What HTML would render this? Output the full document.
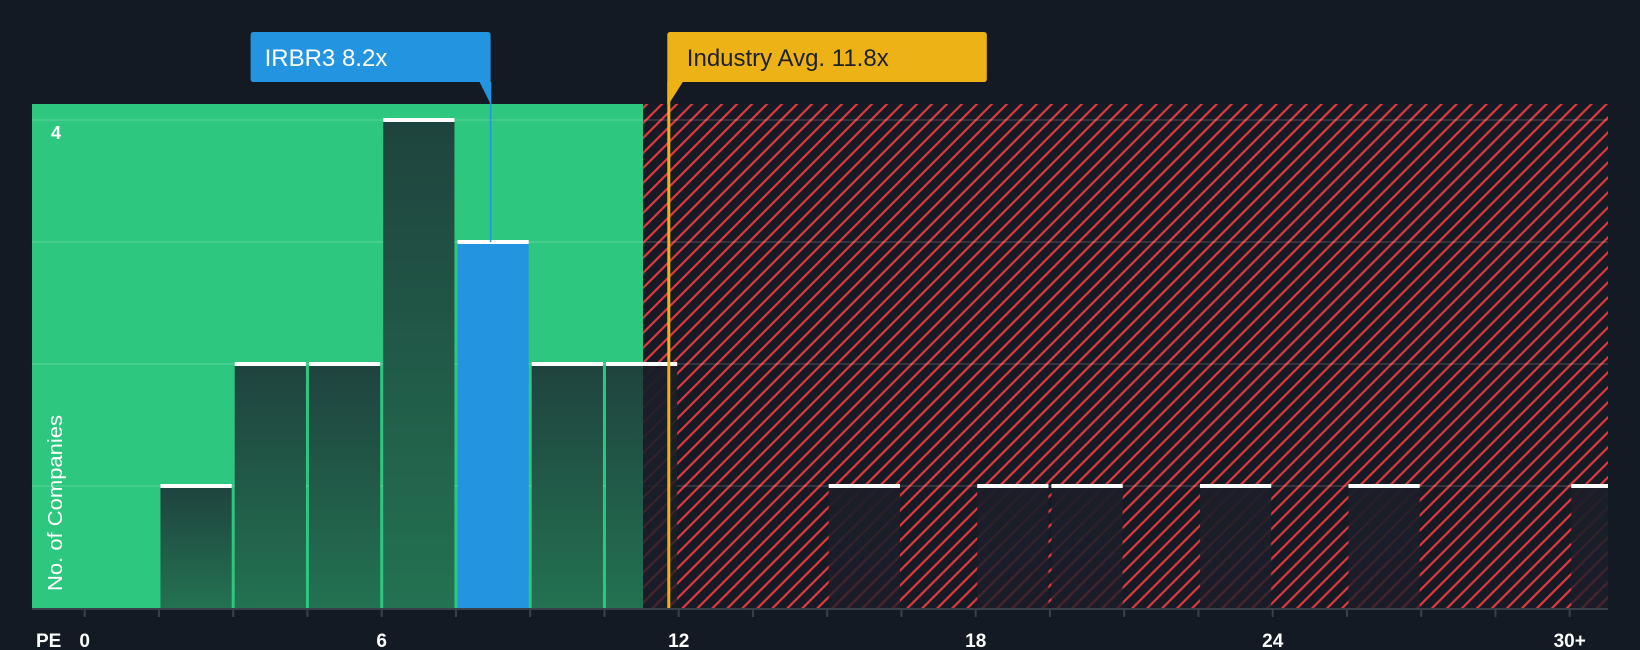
<!DOCTYPE html>
<html><head><meta charset="utf-8"><style>
html,body{margin:0;padding:0;background:#141a23;}
svg{display:block;font-family:"Liberation Sans",sans-serif;}
</style></head><body>
<svg id="chart" width="1640" height="650" viewBox="0 0 1640 650" xmlns="http://www.w3.org/2000/svg">
<defs>
<pattern id="hatch" patternUnits="userSpaceOnUse" width="10.6" height="10.6" patternTransform="rotate(45)">
<rect width="10.6" height="10.6" fill="#161a24"/>
<rect x="0" y="0" width="2.2" height="10.6" fill="#e0393e"/>
</pattern>
<linearGradient id="barg" x1="0" y1="0" x2="0" y2="1">
<stop offset="0" stop-color="#1f433e"/><stop offset="1" stop-color="#237252"/>
</linearGradient>
<linearGradient id="barh" x1="0" y1="0" x2="0" y2="1">
<stop offset="0" stop-color="#1b1e28" stop-opacity="0.97"/><stop offset="1" stop-color="#1b1e28" stop-opacity="0.75"/>
</linearGradient>
</defs>
<g id="plot"></g>
</svg>
<script>
const binStarts=[1.5,3,4.5,6,7.5,9,10.5,12,13.5,15,16.5,18,19.5,21,22.5,24,25.5,27,28.5,30];
const counts=[1,2,2,4,3,2,2,0,0,1,0,1,1,0,1,0,1,0,0,1];
const xTicks=[0,6,12,18,24,30];
const xTickLabels=["0","6","12","18","24","30+"];
const yTicks=[1,2,3,4];
const companyPE=8.2, industryPE=11.8, greenEnd=11.28;
const binW=1.5;
const NS="http://www.w3.org/2000/svg";
const L=32,R=1608,T=104,B=608;
const x=v=>84.7+v*49.5;
const y=v=>B-v*122;
const g=document.getElementById('plot');
function mk(tag,at,parent){const e=document.createElementNS(NS,tag);for(const k in at)e.setAttribute(k,at[k]);(parent||g).appendChild(e);return e;}
let e;
e=mk('rect',{x:L,y:T,width:x(greenEnd)-L,height:B-T,fill:'#2ec780'});


e=mk('rect',{x:x(greenEnd),y:T,width:R-x(greenEnd),height:B-T,fill:'url(#hatch)'});


yTicks.forEach(t=>{
 e=mk('line',{x1:L,x2:R,y1:y(t),y2:y(t),stroke:'rgba(255,255,255,0.12)','stroke-width':2});
 
 
});
binStarts.forEach((s,i)=>{
 const c=counts[i]; if(!c)return;
 const x0=x(s)+1.5, x1=Math.min(x(s+binW)-1.5,R);
 const isCo=companyPE>=s&&companyPE<s+binW;
 const inGreen=s+binW<=greenEnd+0.8;
 if(inGreen){
  const gx=Math.min(x1,x(greenEnd));
  e=mk('rect',{x:x0,y:y(c),width:gx-x0,height:B-y(c),fill:isCo?'#2394e0':'url(#barg)'});
  if(x1>gx){const e2=mk('rect',{x:gx,y:y(c),width:x1-gx,height:B-y(c),fill:'url(#barh)'});}
 } else {
  e=mk('rect',{x:x0,y:y(c),width:x1-x0,height:B-y(c),fill:'url(#barh)'});
 }
 
 
 e=mk('rect',{x:x0,y:y(c)-2,width:x1-x0,height:4,fill:'#ffffff'});
 
 
});
e=mk('line',{x1:L,x2:R,y1:B+1,y2:B+1,stroke:'#3a4048','stroke-width':2});


for(let v=0;v<=30;v+=1.5){
 e=mk('line',{x1:x(v),x2:x(v),y1:B+1,y2:B+9,stroke:'#3a4048','stroke-width':2});
 
 
}
xTicks.forEach((t,i)=>{
 e=mk('text',{x:x(t),y:647,'text-anchor':'middle',fill:'#ffffff','font-size':19,'font-weight':'bold'});
 e.textContent=xTickLabels[i];
 
 
});
e=mk('text',{x:36,y:647,fill:'#ffffff','font-size':19,'font-weight':'bold'});e.textContent='PE';


e=mk('text',{x:51,y:y(4)+19,fill:'#ffffff','font-size':18,'font-weight':'bold'});e.textContent='4';


e=mk('text',{x:0,y:0,fill:'#ffffff','font-size':20,transform:'translate(62,591) rotate(-90)','textLength':176,'lengthAdjust':'spacingAndGlyphs'});e.textContent='No. of Companies';


// company marker
const cx=x(companyPE);
e=mk('line',{x1:cx,x2:cx,y1:82,y2:y(3),stroke:'#2394e0','stroke-width':1.5});


e=mk('path',{d:`M${cx-240} 35 Q${cx-240} 32 ${cx-237} 32 L${cx-3} 32 Q${cx} 32 ${cx} 35 L${cx} 104 L${cx-11} 82 L${cx-237} 82 Q${cx-240} 82 ${cx-240} 79 Z`,fill:'#2394e0'});


e=mk('text',{x:cx-226,y:66,fill:'#ffffff','font-size':24});e.textContent='IRBR3 8.2x';


// industry marker
const ix=x(industryPE);
e=mk('line',{x1:ix,x2:ix,y1:82,y2:B,stroke:'#edb216','stroke-width':3});


e=mk('path',{d:`M${ix-1.5} 35 Q${ix-1.5} 32 ${ix+1.5} 32 L${ix+315} 32 Q${ix+318} 32 ${ix+318} 35 L${ix+318} 79 Q${ix+318} 82 ${ix+315} 82 L${ix+14} 82 L${ix} 104 L${ix-1.5} 104 Z`,fill:'#edb216'});


e=mk('text',{x:ix+18,y:66,fill:'#1d2126','font-size':24});e.textContent='Industry Avg. 11.8x';


</script>
</body></html>
